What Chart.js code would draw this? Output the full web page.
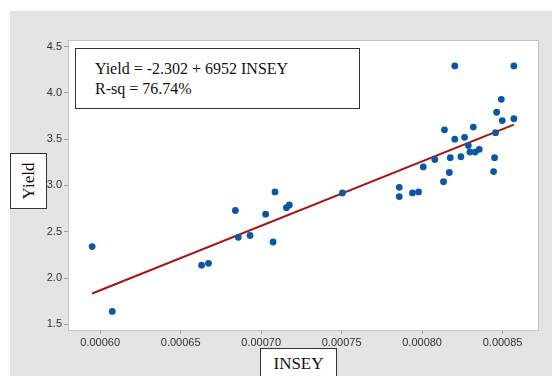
<!DOCTYPE html>
<html>
<head>
<meta charset="utf-8">
<script src="https://cdn.jsdelivr.net/npm/chart.js@4.4.1/dist/chart.umd.min.js"></script>
<style>
  html, body { margin: 0; padding: 0; background: #ffffff; }
  #wrap { position: relative; width: 552px; height: 376px; overflow: hidden; }
  #panel { position: absolute; left: 10px; top: 11px; right: 0; bottom: 0; background: #e4e4e4; }
  canvas { position: absolute; left: 0; top: 0; }
  .box { position: absolute; background: #ffffff; border: 1.5px solid #333; box-sizing: border-box;
         font-family: "Liberation Serif", "Times New Roman", serif; color: #111; }
  #eq { left: 75px; top: 48px; width: 285px; height: 61px; font-size: 16px; line-height: 20px; padding: 10px 0 0 19px; }
  #ylab { left: 10px; top: 153px; width: 37px; height: 56px; }
  #ylab span { position: absolute; left: 50%; top: 50%; transform: translate(-50%, -50%) rotate(-90deg); font-size: 17px; white-space: nowrap; }
  #xlab { left: 260px; top: 348px; width: 77px; height: 34px; font-size: 17px; text-align: center; line-height: 30px; }
</style>
</head>
<body>
<div id="wrap">
  <div id="panel"></div>
  <canvas id="c" width="552" height="376"></canvas>
  <div class="box" id="eq">Yield = -2.302 + 6952 INSEY<br>R-sq = 76.74%</div>
  <div class="box" id="ylab"><span>Yield</span></div>
  <div class="box" id="xlab">INSEY</div>
</div>
<script>
// ---- data ----
const insey = [0.000595, 0.0006075, 0.000663, 0.0006673, 0.000684, 0.0006858, 0.0006931, 0.0007028,
  0.0007086, 0.0007074, 0.0007157, 0.0007175, 0.0007505, 0.0007858, 0.0007858, 0.000794, 0.0007978,
  0.0008007, 0.0008079, 0.0008133, 0.0008139, 0.0008169, 0.0008175, 0.0008203, 0.0008203, 0.0008241,
  0.0008264, 0.0008287, 0.0008297, 0.0008318, 0.000833, 0.0008355, 0.0008444, 0.000845, 0.0008456,
  0.0008463, 0.0008492, 0.0008498, 0.000857, 0.000857];
const yieldVals = [2.34, 1.64, 2.14, 2.16, 2.73, 2.44, 2.46, 2.69,
  2.93, 2.39, 2.76, 2.79, 2.92, 2.98, 2.88, 2.92, 2.93,
  3.20, 3.28, 3.04, 3.60, 3.14, 3.30, 4.29, 3.50, 3.31,
  3.52, 3.43, 3.36, 3.63, 3.36, 3.39, 3.15, 3.30, 3.57,
  3.79, 3.93, 3.70, 4.29, 3.72];
const fitIntercept = -2.302;
const fitSlope = 6952;
const fitRange = [0.000595, 0.000857];
const xTicks = [0.0006, 0.00065, 0.0007, 0.00075, 0.0008, 0.00085];
const yTicks = [1.5, 2.0, 2.5, 3.0, 3.5, 4.0, 4.5];

const points = insey.map((x, i) => ({ x: x, y: yieldVals[i] }));
const fitLine = fitRange.map(x => ({ x: x, y: fitIntercept + fitSlope * x }));

const frame = {
  id: 'frame',
  afterDraw(chart) {
    const a = chart.chartArea, ctx = chart.ctx;
    ctx.save();
    ctx.strokeStyle = '#c4c4c4';
    ctx.lineWidth = 1;
    ctx.strokeRect(Math.round(a.left) + 0.5, Math.round(a.top) + 0.5, Math.round(a.right - a.left), Math.round(a.bottom - a.top));
    ctx.restore();
  },
  beforeDraw(chart) {
    const a = chart.chartArea, ctx = chart.ctx;
    ctx.save();
    ctx.fillStyle = '#ffffff';
    ctx.fillRect(a.left, a.top, a.right - a.left, a.bottom - a.top);
    ctx.restore();
  }
};

new Chart(document.getElementById('c'), {
  type: 'scatter',
  data: {
    datasets: [
      {
        label: 'Fit',
        data: fitLine,
        showLine: true,
        borderColor: '#a31515',
        borderWidth: 2,
        pointRadius: 0,
        order: 2
      },
      {
        label: 'Yield',
        data: points,
        backgroundColor: '#0b57a6',
        borderColor: '#0b57a6',
        pointRadius: 3.4,
        borderWidth: 0,
        order: 1
      }
    ]
  },
  options: {
    responsive: false,
    animation: false,
    devicePixelRatio: 1,
    layout: { padding: { left: 0, top: 40, right: 14, bottom: 0 } },
    plugins: { legend: { display: false }, tooltip: { enabled: false } },
    scales: {
      x: {
        type: 'linear',
        min: 0.00058,
        max: 0.000872,
        afterBuildTicks: s => { s.ticks = xTicks.map(v => ({ value: v })); },
        afterFit: s => { s.height = 46; },
        ticks: {
          callback: v => v.toFixed(5),
          font: { family: '"Liberation Sans", Arial, sans-serif', size: 11 },
          color: '#333',
          padding: 2,
          maxRotation: 0
        },
        grid: { drawOnChartArea: false, drawTicks: true, tickLength: 4, color: '#9a9a9a' },
        border: { display: false }
      },
      y: {
        type: 'linear',
        min: 1.44,
        max: 4.57,
        afterBuildTicks: s => { s.ticks = yTicks.map(v => ({ value: v })); },
        afterFit: s => { s.width = 68; },
        ticks: {
          callback: v => v.toFixed(1),
          font: { family: '"Liberation Sans", Arial, sans-serif', size: 11 },
          color: '#333',
          padding: 2
        },
        grid: { drawOnChartArea: false, drawTicks: true, tickLength: 4, color: '#9a9a9a' },
        border: { display: false }
      }
    }
  },
  plugins: [frame]
});
</script>
</body>
</html>
